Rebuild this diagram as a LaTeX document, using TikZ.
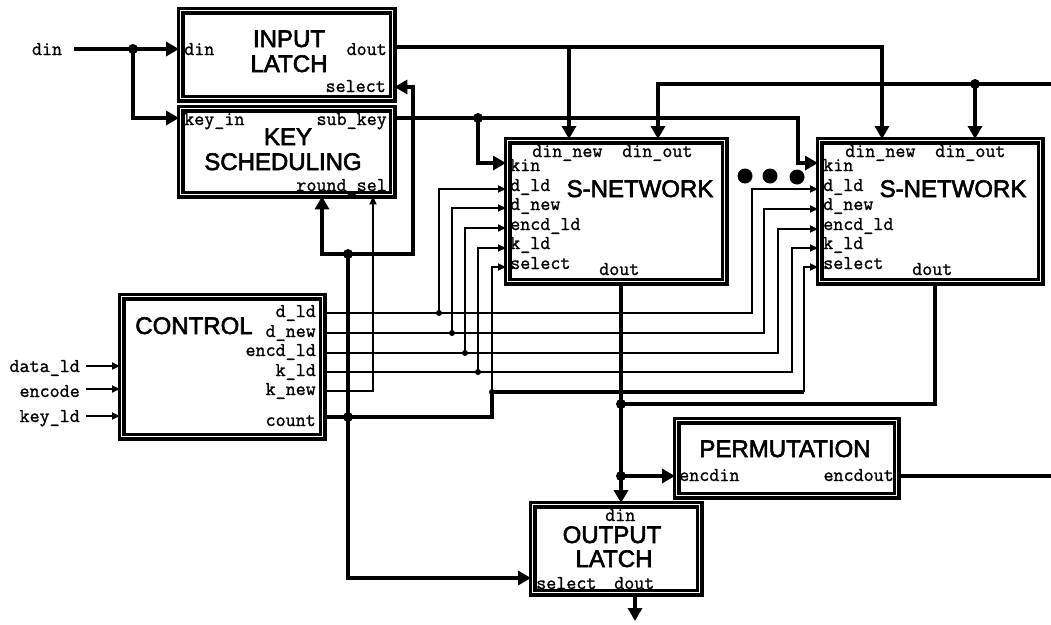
\documentclass[tikz,border=0pt]{standalone}
\usepackage{fontspec}
\setmainfont{Liberation Sans}
\newfontfamily\ttlfont[FakeBold=2.5]{Liberation Sans}
\newfontfamily\lblfont[FakeBold=1.2]{Latin Modern Mono}
\usetikzlibrary{arrows.meta}
\begin{document}
\begin{tikzpicture}[x=1pt,y=-1pt,
  box/.style={draw, line width=3.4pt, double=white, double distance=1.4pt,
    inner sep=0pt, outer sep=1.7pt, anchor=north west},
  ttl/.style={font=\ttlfont\fontsize{24}{25}\selectfont, inner sep=0pt, anchor=base},
  lbl/.style={font=\lblfont\fontsize{19.5}{20}\selectfont, inner sep=0pt},
  bus/.style={line width=3.8pt},
  sig/.style={line width=1.7pt},
  bigarr/.style={-{Triangle[length=13pt,width=14pt]}},
  smallarr/.style={-{Triangle[length=8pt,width=7pt]}},
  bigdot/.style={circle, fill, inner sep=0pt, minimum size=10pt},
  smalldot/.style={circle, fill, inner sep=0pt, minimum size=6pt},
  elldot/.style={circle, fill, inner sep=0pt, minimum size=15pt},
]
\useasboundingbox (0,0) rectangle (1051,624);

% ---------- boxes ----------
\node[box, minimum width=212pt, minimum height=88pt]  (IL)  at (179,9)   {};
\node[box, minimum width=212pt, minimum height=86pt]  (KS)  at (179,107) {};
\node[box, minimum width=217pt, minimum height=141pt] (SN1) at (506,139) {};
\node[box, minimum width=221pt, minimum height=141pt] (SN2) at (818,139) {};
\node[box, minimum width=201pt, minimum height=140pt] (CT)  at (120,295) {};
\node[box, minimum width=220pt, minimum height=75pt]  (PM)  at (675,419) {};
\node[box, minimum width=167pt, minimum height=88pt]  (OL)  at (531,503) {};

% ---------- titles ----------
\node[ttl] (ILt1) at (289,47)  {INPUT};
\node[ttl] (ILt2) at (289,72)  {LATCH};
\node[ttl] (KSt1) at (288,145) {KEY};
\node[ttl] (KSt2) at (283,170) {SCHEDULING};
\node[ttl] (SN1t) at (640,197) {S-NETWORK};
\node[ttl] (SN2t) at (953,197) {S-NETWORK};
\node[ttl] (CTt)  at (194,334) {CONTROL};
\node[ttl] (PMt)  at (785,457) {PERMUTATION};
\node[ttl] (OLt1) at (612,543) {OUTPUT};
\node[ttl] (OLt2) at (614,567) {LATCH};

% ---------- port labels ----------
\node[lbl, anchor=base west] (Ldin)   at (184,55)  {din};
\node[lbl, anchor=base east] (Ldout)  at (387,55)  {dout};
\node[lbl, anchor=base east] (Lsel)   at (386,92)  {select};
\node[lbl, anchor=base west] (Lkin)   at (184,125) {key\_in};
\node[lbl, anchor=base east] (Lsub)   at (387,125) {sub\_key};
\node[lbl, anchor=base east] (Lrnd)   at (387,191) {round\_sel};

\foreach \s/\dx in {1/0, 2/313} {
  \node[lbl, anchor=base west] (S\s dn)  at (532+\dx,157) {din\_new};
  \node[lbl, anchor=base west] (S\s do)  at (622+\dx,157) {din\_out};
  \node[lbl, anchor=base west] (S\s kin) at (510+\dx,171) {kin};
  \node[lbl, anchor=base west] (S\s dl)  at (510+\dx,191) {d\_ld};
  \node[lbl, anchor=base west] (S\s dw)  at (510+\dx,210) {d\_new};
  \node[lbl, anchor=base west] (S\s en)  at (510+\dx,230) {encd\_ld};
  \node[lbl, anchor=base west] (S\s kl)  at (510+\dx,249) {k\_ld};
  \node[lbl, anchor=base west] (S\s sl)  at (510+\dx,269) {select};
  \node[lbl, anchor=base west] (S\s ou)  at (599+\dx,275) {dout};
}

\node[lbl, anchor=base east] (Cdl) at (316,317) {d\_ld};
\node[lbl, anchor=base east] (Cdw) at (316,337) {d\_new};
\node[lbl, anchor=base east] (Cen) at (316,356) {encd\_ld};
\node[lbl, anchor=base east] (Ckl) at (316,376) {k\_ld};
\node[lbl, anchor=base east] (Ckn) at (316,395) {k\_new};
\node[lbl, anchor=base east] (Ccn) at (316,426) {count};

\node[lbl, anchor=base west] (Pin)  at (679,481) {encdin};
\node[lbl, anchor=base east] (Pout) at (894,481) {encdout};

\node[lbl, anchor=base west] (Odin) at (605,521) {din};
\node[lbl, anchor=base west] (Osel) at (536,589) {select};
\node[lbl, anchor=base west] (Oout) at (614,589) {dout};

\node[lbl, anchor=base] (Xdin)  at (47,55)  {din};
\node[lbl, anchor=base east] (Xdat) at (80,372) {data\_ld};
\node[lbl, anchor=base east] (Xenc) at (80,397) {encode};
\node[lbl, anchor=base east] (Xkey) at (80,422) {key\_ld};

% ---------- port coordinates ----------
\coordinate (IL-din)  at (IL.west |- 0,49);
\coordinate (IL-dout) at (IL.east |- 0,47);
\coordinate (IL-sel)  at (IL.east |- 0,87);
\coordinate (KS-in)   at (KS.west |- 0,118);
\coordinate (KS-sub)  at (KS.east |- 0,118);
\coordinate (KS-rnd)  at (KS.south -| 322,0);
\coordinate (KS-rs)   at (KS.south -| 373,0);

\coordinate (S1-dn)  at (SN1.north -| 569,0);
\coordinate (S1-do)  at (SN1.north -| 658,0);
\coordinate (S1-kin) at (SN1.west |- 0,163);
\coordinate (S1-dl)  at (SN1.west |- 0,189);
\coordinate (S1-dw)  at (SN1.west |- 0,208);
\coordinate (S1-en)  at (SN1.west |- 0,228);
\coordinate (S1-kl)  at (SN1.west |- 0,248);
\coordinate (S1-sl)  at (SN1.west |- 0,267);
\coordinate (S1-ou)  at (SN1.south -| 621,0);

\coordinate (S2-dn)  at (SN2.north -| 882,0);
\coordinate (S2-do)  at (SN2.north -| 975,0);
\coordinate (S2-kin) at (SN2.west |- 0,163);
\coordinate (S2-dl)  at (SN2.west |- 0,189);
\coordinate (S2-dw)  at (SN2.west |- 0,209);
\coordinate (S2-en)  at (SN2.west |- 0,229);
\coordinate (S2-kl)  at (SN2.west |- 0,248);
\coordinate (S2-sl)  at (SN2.west |- 0,267);
\coordinate (S2-ou)  at (SN2.south -| 935,0);

\coordinate (C-dl) at (CT.east |- 0,313);
\coordinate (C-dw) at (CT.east |- 0,333);
\coordinate (C-en) at (CT.east |- 0,353);
\coordinate (C-kl) at (CT.east |- 0,372);
\coordinate (C-kn) at (CT.east |- 0,391);
\coordinate (C-cn) at (CT.east |- 0,417);
\coordinate (C-da) at (CT.west |- 0,366);
\coordinate (C-ec) at (CT.west |- 0,389);
\coordinate (C-ky) at (CT.west |- 0,416);

\coordinate (P-in)  at (PM.west |- 0,476);
\coordinate (P-out) at (PM.east |- 0,476);
\coordinate (O-din) at (OL.north -| 621,0);
\coordinate (O-sel) at (OL.west |- 0,578);
\coordinate (O-out) at (OL.south -| 635,0);

% free ends and bends
\coordinate (dinsrc) at (74,49);
\coordinate (rtop)   at (1051,84);
\coordinate (rbot)   at (1051,476);
\coordinate (outend) at (635,621);
\coordinate (srcda)  at (86,366);
\coordinate (srcec)  at (86,389);
\coordinate (srcky)  at (86,416);
\coordinate (skc)    at (798,118);
\coordinate (ilsc)   at (413,87);
\coordinate (selc)   at (804,392);
\coordinate (t1)     at (IL-dout -| S1-dn);
\coordinate (c2dl)   at (752,313);
\coordinate (c2dw)   at (764,333);
\coordinate (c2en)   at (778,353);
\coordinate (c2kl)   at (792,372);

% junctions
\coordinate (j1)   at (133,49);
\coordinate (jsk)  at (478,118);
\coordinate (jtop) at (975,84);
\coordinate (jc1)  at (348,254);
\coordinate (jc2)  at (348,417);
\coordinate (jsel) at (492,392);
\coordinate (jd1)  at (621,404);
\coordinate (jd2)  at (621,476);
\coordinate (jdl)  at (439,313);
\coordinate (jdw)  at (452,333);
\coordinate (jen)  at (465,353);
\coordinate (jkl)  at (478,372);

% ---------- thick connectors ----------
\draw[bus,bigarr] (dinsrc) -- (IL-din);
\draw[bus,bigarr] (j1) |- (KS-in);
\draw[bus,bigarr] (IL-dout) -| (S2-dn);
\draw[bus,bigarr] (t1) -- (S1-dn);
\draw[bus,bigarr] (rtop) -| (S1-do);
\draw[bus,bigarr] (jtop) -- (S2-do);
\draw[bus,bigarr] (KS-sub) -- (skc) |- (S2-kin);
\draw[bus,bigarr] (jsk) |- (S1-kin);
\draw[bus] (C-cn) -| (jsel) -- (selc);
\draw[bus,bigarr] (jc1) |- (O-sel);
\draw[bus,bigarr] (jc1) -| (KS-rnd);
\draw[bus,bigarr] (jc1) -| (ilsc) -- (IL-sel);
\draw[bus,bigarr] (S1-ou) -- (O-din);
\draw[bus] (S2-ou) |- (jd1);
\draw[bus,bigarr] (jd2) -- (P-in);
\draw[bus] (P-out) -- (rbot);
\draw[bus,bigarr] (O-out) -- (outend);

% ---------- thin connectors ----------
\draw[sig,smallarr] (selc) |- (S2-sl);
\draw[sig,smallarr] (jsel) |- (S1-sl);
\draw[sig,smallarr] (C-kn) -| (KS-rs);
\draw[sig,smallarr] (C-dl) -- (c2dl) |- (S2-dl);
\draw[sig,smallarr] (C-dw) -- (c2dw) |- (S2-dw);
\draw[sig,smallarr] (C-en) -- (c2en) |- (S2-en);
\draw[sig,smallarr] (C-kl) -- (c2kl) |- (S2-kl);
\draw[sig,smallarr] (jdl) |- (S1-dl);
\draw[sig,smallarr] (jdw) |- (S1-dw);
\draw[sig,smallarr] (jen) |- (S1-en);
\draw[sig,smallarr] (jkl) |- (S1-kl);
\draw[sig,smallarr] (srcda) -- (C-da);
\draw[sig,smallarr] (srcec) -- (C-ec);
\draw[sig,smallarr] (srcky) -- (C-ky);

% ---------- dots ----------
\node[bigdot] (dj1)   at (j1)   {};
\node[bigdot] (djsk)  at (jsk)  {};
\node[bigdot] (djtop) at (jtop) {};
\node[bigdot] (djc1)  at (jc1)  {};
\node[bigdot] (djc2)  at (jc2)  {};
\node[bigdot] (djd1)  at (jd1)  {};
\node[bigdot] (djd2)  at (jd2)  {};
\node[smalldot] (djsel) at (jsel) {};
\node[smalldot] (djdl)  at (jdl)  {};
\node[smalldot] (djdw)  at (jdw)  {};
\node[smalldot] (djen)  at (jen)  {};
\node[smalldot] (djkl)  at (jkl)  {};

\node[elldot] (e1) at (745,176) {};
\node[elldot] (e2) at (770,176) {};
\node[elldot] (e3) at (797,177) {};
\end{tikzpicture}
\end{document}
